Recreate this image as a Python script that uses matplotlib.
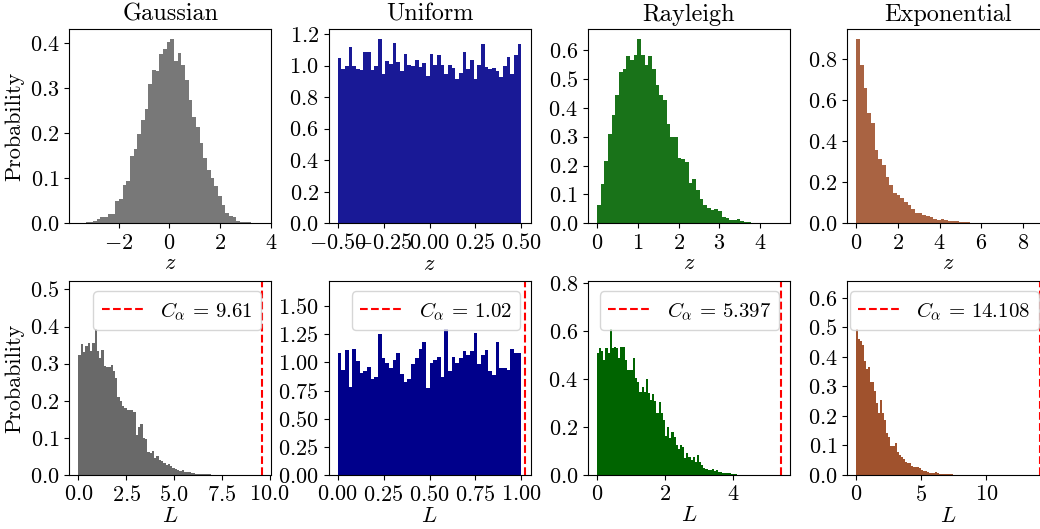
import matplotlib
matplotlib.use("Agg")
import matplotlib.pyplot as plt
from matplotlib.ticker import MultipleLocator
import numpy as np

plt.rcParams['font.family'] = 'serif'
plt.rcParams['font.serif'] = ['cmr10']
plt.rcParams['mathtext.fontset'] = 'cm'
plt.rcParams['axes.formatter.use_mathtext'] = True
plt.rcParams['font.size'] = 14
plt.rcParams['axes.labelsize'] = 16
plt.rcParams['xtick.labelsize'] = 16
plt.rcParams['ytick.labelsize'] = 16

names = ['Gaussian', 'Uniform', 'Rayleigh', 'Exponential']
colors = ['dimgray', 'darkblue', 'darkgreen', 'sienna']

# top row: histograms of the noise samples z (density)
z_range = [(-3.58, 3.66), (-0.5, 0.5), (0.0, 4.5), (0.0, 8.8)]
z_gauss = [0.0007, 0.001, 0.002, 0.004, 0.006, 0.01, 0.014, 0.014, 0.021, 0.02,
           0.05, 0.054, 0.086, 0.093, 0.150, 0.166, 0.199, 0.23, 0.254, 0.31,
           0.341, 0.339, 0.376, 0.387, 0.402, 0.41, 0.361, 0.378, 0.352, 0.317,
           0.273, 0.236, 0.214, 0.179, 0.145, 0.119, 0.101, 0.082, 0.060, 0.041,
           0.023, 0.016, 0.014, 0.005, 0.004, 0.002, 0.002, 0.001, 0.0007, 0.0005]
z_unif = [1.049, 0.979, 1.0, 1.116, 0.996, 0.979, 0.97, 1.084, 1.084, 0.97,
          1.0, 1.171, 0.949, 1.027, 1.01, 1.143, 1.025, 0.964, 1.074, 1.006,
          0.996, 1.038, 0.989, 1.019, 0.932, 1.074, 1.006, 1.065, 1.006, 0.949,
          1.002, 0.983, 0.913, 0.954, 1.086, 0.981, 1.034, 0.913, 1.004, 1.135,
          0.989, 0.979, 0.983, 0.964, 0.928, 0.994, 1.055, 0.949, 1.065, 1.135]
z_rayl = [0.062, 0.135, 0.216, 0.31, 0.374, 0.446, 0.524, 0.535, 0.581, 0.565,
          0.584, 0.64, 0.582, 0.55, 0.579, 0.536, 0.48, 0.444, 0.427, 0.343,
          0.299, 0.299, 0.227, 0.224, 0.212, 0.141, 0.152, 0.114, 0.085, 0.063,
          0.054, 0.046, 0.048, 0.044, 0.023, 0.018, 0.013, 0.013, 0.014, 0.009,
          0.006, 0.006, 0.002, 0.001, 0.001, 0.0005, 0.0005, 0.0, 0.0, 0.0005]
z_expo = [0.899, 0.768, 0.659, 0.538, 0.489, 0.355, 0.314, 0.285, 0.225, 0.186,
          0.146, 0.136, 0.125, 0.105, 0.087, 0.068, 0.049, 0.052, 0.039, 0.034,
          0.029, 0.023, 0.016, 0.019, 0.015, 0.011, 0.011, 0.013, 0.008, 0.006,
          0.005, 0.004, 0.004, 0.003, 0.002, 0.002, 0.001, 0.001, 0.001, 0.0005,
          0.0, 0.0005, 0.0, 0.0, 0.0005, 0.0, 0.0, 0.0, 0.0, 0.0005]

# bottom row: histograms of the statistic L (density)
L_range = [(0.0, 7.68), (0.0, 1.0), (0.0, 4.5), (0.0, 8.525)]
L_gauss = [0.323, 0.352, 0.33, 0.347, 0.356, 0.335, 0.356, 0.392, 0.333, 0.316,
           0.337, 0.294, 0.29, 0.29, 0.297, 0.28, 0.262, 0.209, 0.2, 0.186,
           0.18, 0.176, 0.175, 0.174, 0.17, 0.107, 0.128, 0.137, 0.1, 0.098,
           0.063, 0.06, 0.064, 0.047, 0.052, 0.04, 0.038, 0.032, 0.028, 0.03,
           0.024, 0.019, 0.017, 0.014, 0.012, 0.013, 0.009, 0.008, 0.007, 0.006,
           0.005, 0.004, 0.004, 0.003, 0.003, 0.002, 0.002, 0.002, 0.001, 0.001,
           0.001, 0.0005, 0.0, 0.0005]
L_unif = [1.086, 0.932, 1.115, 0.778, 1.124, 1.012, 0.902, 0.926, 0.956, 0.852,
          0.867, 1.251, 1.036, 0.991, 0.947, 1.021, 1.086, 0.896, 0.822, 0.852,
          0.985, 1.041, 1.124, 1.183, 0.775, 0.991, 1.021, 1.05, 0.867, 1.293,
          0.926, 1.05, 0.991, 1.036, 1.101, 1.065, 1.101, 1.266, 0.985, 1.065,
          1.115, 0.926, 0.888, 1.178, 0.947, 0.947, 0.932, 1.124, 1.086, 1.086]
L_rayl = [0.51, 0.531, 0.518, 0.479, 0.531, 0.51, 0.607, 0.528, 0.535, 0.528,
          0.486, 0.535, 0.535, 0.479, 0.44, 0.44, 0.4375, 0.486, 0.403, 0.386,
          0.347, 0.368, 0.347, 0.399, 0.34, 0.3125, 0.3375, 0.31, 0.26, 0.306,
          0.257, 0.229, 0.164, 0.201, 0.153, 0.178, 0.16, 0.125, 0.107, 0.125,
          0.118, 0.069, 0.09, 0.076, 0.0625, 0.076, 0.056, 0.083, 0.056, 0.042,
          0.028, 0.024, 0.021, 0.021, 0.024, 0.018, 0.021, 0.014, 0.014, 0.01,
          0.01, 0.007, 0.007, 0.004, 0.003, 0.003, 0.002, 0.002, 0.001, 0.001,
          0.0005, 0.001]
L_expo = [0.493, 0.462, 0.454, 0.439, 0.386, 0.36, 0.366, 0.315, 0.315, 0.285,
          0.244, 0.211, 0.253, 0.211, 0.188, 0.141, 0.13, 0.098, 0.098, 0.107,
          0.079, 0.068, 0.062, 0.053, 0.045, 0.042, 0.039, 0.032, 0.028, 0.026,
          0.026, 0.025, 0.017, 0.012, 0.015, 0.011, 0.008, 0.008, 0.007, 0.011,
          0.007, 0.005, 0.004, 0.003, 0.003, 0.002, 0.002, 0.002, 0.001, 0.001,
          0.001, 0.0005, 0.001, 0.0005, 0.0005]

c_alpha = [9.61, 1.02, 5.397, 14.108]
c_text = ['9.61', '1.02', '5.397', '14.108']

z_data = [z_gauss, z_unif, z_rayl, z_expo]
L_data = [L_gauss, L_unif, L_rayl, L_expo]

# tick steps (x, y) per panel
z_steps = [(2, 0.1), (0.25, 0.2), (1, 0.1), (2, 0.2)]
L_steps = [(2.5, 0.1), (0.25, 0.25), (2, 0.2), (5, 0.1)]

fig, axes = plt.subplots(2, 4, figsize=(10.4, 5.29), dpi=100)
# the last column runs past the right edge, as in the original
fig.subplots_adjust(left=0.0666, right=1.0087, bottom=0.1021, top=0.9446,
                    wspace=0.283, hspace=0.297)

for j in range(4):
    # top: z histogram
    ax = axes[0, j]
    h = np.array(z_data[j])
    edges = np.linspace(z_range[j][0], z_range[j][1], len(h) + 1)
    ax.hist(edges[:-1], bins=edges, weights=h, color=colors[j], alpha=0.9)
    ax.set_title(names[j], fontsize=17.5)
    ax.set_xlabel('$z$', labelpad=1)
    ax.xaxis.set_major_locator(MultipleLocator(z_steps[j][0]))
    ax.yaxis.set_major_locator(MultipleLocator(z_steps[j][1]))

    # bottom: L histogram + threshold
    ax = axes[1, j]
    h = np.array(L_data[j])
    edges = np.linspace(L_range[j][0], L_range[j][1], len(h) + 1)
    ax.hist(edges[:-1], bins=edges, weights=h, color=colors[j])
    ax.axvline(c_alpha[j], color='red', linestyle='--',
               label=r'$C_\alpha \,=\, %s$' % c_text[j])
    ax.set_ylim(0, ax.get_ylim()[1] * 1.27)
    ax.set_xlabel('$L$', labelpad=1)
    ax.xaxis.set_major_locator(MultipleLocator(L_steps[j][0]))
    ax.yaxis.set_major_locator(MultipleLocator(L_steps[j][1]))
    ax.legend(loc='upper right', fontsize=15)

axes[0, 0].set_ylabel('Probability')
axes[1, 0].set_ylabel('Probability')

plt.savefig('out.png', dpi=100)
